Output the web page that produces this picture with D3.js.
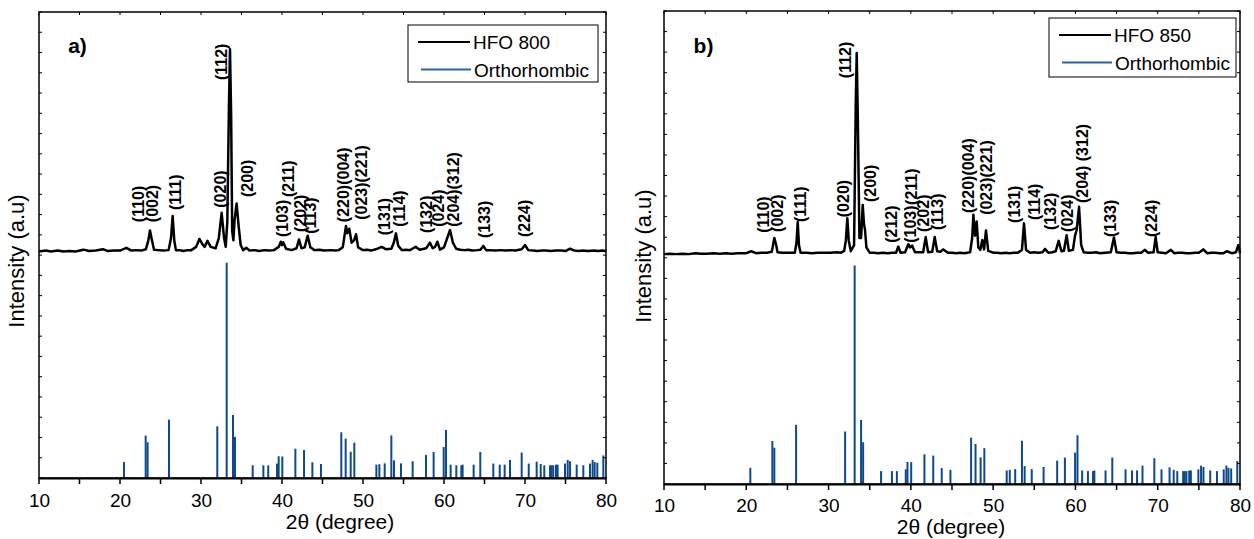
<!DOCTYPE html>
<html><head><meta charset="utf-8">
<script src="https://cdn.jsdelivr.net/npm/d3@7"></script>
<style>
body{margin:0;background:#fff}
svg{display:block}
text{font-family:"Liberation Sans",Arial,sans-serif;fill:#000}
</style>
</head><body>
<svg id="chart" width="1254" height="539"></svg>
<script>
// ---------- DATA ----------
const xTicks = [10, 20, 30, 40, 50, 60, 70, 80];
const xTitle = "2\u03B8 (degree)";
const yTitle = "Intensity (a.u)";

// Orthorhombic reference pattern: [2theta, relative intensity %]
const orthoSticks = [
  [20.49,7.4],[23.17,19.7],[23.41,16.6],[26.05,27.1],[32.01,24.0],[33.17,100],[33.95,29.3],[34.2,19.1],
  [36.38,5.9],[37.7,5.9],[38.3,5.9],[39.38,6.7],[39.59,10.1],[40.04,10.0],[41.65,13.6],[42.72,13.0],
  [43.75,7.3],[44.81,6.5],[47.32,21.2],[47.86,18.3],[48.48,12.2],[48.93,16.4],[51.65,6.2],[52.02,6.4],
  [52.68,6.8],[53.5,19.8],[53.83,8.2],[54.69,6.8],[56.13,7.8],[57.78,10.7],[58.72,12.1],[59.96,14.4],
  [60.25,22.3],[60.82,6.2],[61.52,5.9],[62.14,5.9],[62.3,6.2],[63.66,6.2],[64.48,12.1],[66.09,6.7],
  [66.88,6.2],[67.49,6.2],[68.15,8.4],[69.59,11.8],[70.46,6.7],[71.44,7.6],[71.94,6.5],[72.38,5.9],
  [73.09,5.9],[73.29,5.9],[73.49,5.9],[73.83,6.2],[74.03,6.2],[74.94,6.7],[75.27,8.4],[75.56,7.8],
  [76.38,6.2],[77.2,5.9],[78.02,6.7],[78.35,8.4],[78.6,7.4],[78.93,7.1],[79.67,10.5]
];

// HFO 800 measured pattern: [2theta, intensity (a.u.)]
const hfo800 = [
  [10,48.6],[10.8,48.8],[11.5,48.6],[12.3,48.8],[13,48.6],[13.8,48.7],[14.5,48.6],[15.5,49.0],[16.2,48.7],[17,48.8],
  [17.9,49.1],[18.5,48.7],[19.2,48.8],[20,48.8],[20.8,49.4],[21.4,48.8],[22,48.9],[22.6,48.8],[23.2,49.1],[23.5,51.0],
  [23.7,53.1],[23.9,51.4],[24.2,49.0],[24.7,48.9],[25.3,48.8],[26.0,48.9],[26.3,51.5],[26.5,56.2],[26.7,51.0],[26.9,48.9],
  [27.4,48.9],[27.8,48.7],[28.3,48.9],[28.8,48.9],[29.4,49.6],[29.8,51.3],[30.2,50.1],[30.45,49.6],[30.8,50.9],[31.2,49.6],
  [31.8,49.3],[32.2,51.5],[32.55,56.9],[32.85,51.5],[33.05,49.6],[33.25,55],[33.45,80],[33.58,92.0],[33.72,78],[33.85,53],
  [34.0,51.0],[34.15,55.5],[34.4,58.9],[34.65,54],[34.9,50.0],[35.2,48.9],[35.6,49.4],[36.0,48.8],[36.6,48.9],[37.2,48.7],
  [37.8,48.9],[38.4,48.8],[39.0,48.9],[39.6,49.6],[39.85,50.7],[40.0,50.0],[40.15,50.6],[40.5,49.2],[41.2,48.9],[41.8,49.3],
  [42.1,51.2],[42.4,49.3],[42.8,49.5],[43.17,52.0],[43.5,49.5],[44.0,48.9],[44.6,49.0],[45.2,48.8],[46.0,48.9],[46.6,48.8],
  [47.0,48.9],[47.5,49.5],[47.9,54.1],[48.05,52.5],[48.3,53.5],[48.6,50.5],[48.9,51.0],[49.14,52.3],[49.4,49.5],[50.0,48.9],
  [50.5,49.0],[51.0,48.8],[51.8,49.2],[52.3,49.6],[52.8,49.1],[53.5,49.2],[53.8,50.5],[54.07,52.5],[54.35,49.8],[54.8,48.9],
  [55.3,49.0],[55.8,48.9],[56.2,49.3],[56.5,49.6],[57.0,49.0],[57.8,49.3],[58.27,50.5],[58.6,49.3],[58.9,49.6],[59.18,50.7],
  [59.5,49.0],[60.0,49.5],[60.4,51.5],[60.74,53.2],[61.1,50.5],[61.5,49.2],[62.0,49.0],[62.5,48.9],[63.0,49.0],[63.5,48.8],
  [64.1,48.9],[64.5,49.0],[64.85,49.8],[65.2,48.9],[65.7,48.9],[66.3,48.8],[67.0,48.9],[67.6,48.8],[68.2,48.9],[68.8,48.8],
  [69.6,49.1],[70.0,50.0],[70.4,48.9],[71.0,48.8],[71.5,48.7],[72.1,48.8],[72.6,48.8],[73.2,48.7],[73.8,48.8],[74.5,48.8],
  [75.0,48.7],[75.56,49.2],[76.1,48.8],[76.6,48.7],[77.2,48.8],[77.8,48.7],[78.5,48.8],[79.0,48.7],[79.5,48.8],[80,48.7]
];

// HFO 850 measured pattern: [2theta, intensity (a.u.)]
const hfo850 = [
  [10,48.6],[10.7,48.7],[11.5,48.6],[12.3,48.7],[13,48.6],[13.8,48.8],[14.5,48.7],[15.2,48.7],[16,48.8],[16.8,48.7],
  [17.5,48.8],[18.2,48.7],[19,48.8],[19.6,48.8],[20.0,48.8],[20.6,49.2],[21.2,48.8],[21.8,48.9],[22.5,48.9],[23.1,49.1],
  [23.25,50.5],[23.41,52.0],[23.6,50.8],[23.8,49.0],[24.4,48.9],[25.0,48.9],[25.9,48.9],[26.1,51.0],[26.25,55.4],[26.4,50.5],
  [26.6,48.9],[27.3,48.9],[28.0,48.8],[28.7,48.9],[29.5,48.9],[30.2,48.9],[31.0,49.0],[31.5,48.9],[31.9,49.3],[32.1,51.5],
  [32.28,56.2],[32.45,51.5],[32.7,49.2],[33.1,50.5],[33.3,80],[33.42,91.1],[33.55,78],[33.75,52],[33.95,52],[34.15,59.0],
  [34.3,55.0],[34.43,53.7],[34.6,50.0],[35.0,48.9],[35.5,48.9],[36.0,48.8],[36.6,48.9],[37.2,48.8],[37.7,48.9],[38.2,48.9],
  [38.47,50.2],[38.75,48.9],[39.3,49.0],[39.69,50.7],[39.9,50.0],[40.15,50.4],[40.5,49.0],[41.0,49.0],[41.5,49.0],[41.8,52.2],
  [42.1,49.0],[42.6,49.1],[42.9,52.2],[43.2,49.2],[43.6,49.1],[43.94,49.6],[44.5,48.9],[45.0,48.9],[45.5,48.8],[46.0,48.9],
  [46.5,48.8],[47.2,49.0],[47.45,52],[47.6,56.9],[47.8,52.5],[48.0,55.5],[48.2,50.0],[48.45,49.5],[48.68,51.6],[48.9,49.6],
  [49.13,53.6],[49.4,49.3],[50.0,48.9],[50.5,48.9],[51.0,48.8],[51.5,48.9],[52.0,48.8],[52.5,48.9],[53.0,48.9],[53.5,49.5],
  [53.75,55.1],[54.0,49.5],[54.5,48.9],[55.0,49.0],[55.5,48.9],[56.0,49.0],[56.3,49.7],[56.7,48.9],[57.2,49.0],[57.6,49.2],
  [57.96,51.4],[58.3,49.2],[58.6,49.3],[58.93,52.6],[59.2,49.3],[59.7,49.5],[59.95,52.5],[60.15,53.7],[60.44,58.6],[60.7,50.5],
  [61.0,49.0],[61.5,48.9],[62.0,48.9],[62.5,49.0],[63.0,48.8],[63.6,48.9],[64.3,49.0],[64.68,52.1],[65.0,49.0],[65.5,48.9],
  [66.0,48.9],[66.5,48.8],[67.0,48.8],[67.5,48.9],[68.0,48.9],[68.45,49.5],[68.8,48.9],[69.5,49.0],[69.75,52.2],[70.0,49.0],
  [70.5,48.9],[71.0,48.8],[71.6,49.5],[72.0,48.8],[72.5,48.9],[73.0,48.9],[73.5,48.8],[74.0,48.8],[74.5,48.9],[75.0,48.9],
  [75.54,49.6],[76.0,48.8],[76.5,48.9],[77.0,48.9],[77.5,48.8],[78.0,48.8],[78.4,49.2],[79.0,48.8],[79.5,49.0],[79.8,50.5],[80,48.8]
];

// Miller-index annotations: [text, 2theta, intensity where text starts]
const peaks800 = [
  ["(110)",22.26,54.9],["(002)",24.0,54.9],["(111)",26.87,57.5],["(020)",32.35,58.0],["(112)",32.55,85.4],
  ["(200)",35.72,60.3],["(103)",40.06,51.7],["(211)",40.74,60.3],["(202)",42.28,52.8],["(113)",43.54,52.4],
  ["(220)(004)",47.57,54.9],["(023)(221)",49.84,55.4],["(131)",52.6,52.1],["(114)",54.47,53.9],["(132)",57.86,52.6],
  ["(024)",59.3,53.9],["(204)(312)",61.15,53.9],["(133)",64.94,51.5],["(224)",69.88,51.7]
];
const peaks850 = [
  ["(110)",22.07,53.1],["(002)",23.77,53.3],["(111)",26.6,55.4],["(020)",31.8,56.4],["(112)",32.0,85.8],
  ["(200)",35.03,59.6],["(212)",37.67,51.0],["(103)",39.9,51.0],["(211)",40.1,59.0],["(202)",41.51,53.3],
  ["(113)",43.2,53.7],["(220)(004)",46.98,57.3],["(023)(221)",49.21,56.9],["(131)",52.53,55.2],["(114)",54.96,55.8],
  ["(132)",56.99,53.7],["(024)",59.0,53.3],["(204) (312)",60.83,59.4],["(133)",64.23,52.2],["(224)",69.26,52.2]
];

const seriesNames800 = ["HFO 800", "Orthorhombic"];
const seriesNames850 = ["HFO 850", "Orthorhombic"];
const panelLetters = ["a)", "b)"];

// ---------- DRAW ----------
const svg = d3.select("#chart");
const stickColor = "#0d4a8c";

const panels = [
  {box:{l:39,r:606,t:12,b:478}, curve:hfo800, peaks:peaks800, names:seriesNames800, letter:panelLetters[0],
   legend:{x:408,y:25,w:190,h:57}, tickBase:507, xt:{x:340,y:529}, yt:{x:16,y:261}},
  {box:{l:664,r:1240,t:11,b:484}, curve:hfo850, peaks:peaks850, names:seriesNames850, letter:panelLetters[1],
   legend:{x:1049,y:18,w:187,h:59}, tickBase:512, xt:{x:951,y:534}, yt:{x:643,y:256}}
];

panels.forEach(p => {
  const b = p.box;
  const x = d3.scaleLinear().domain([10, 80]).range([b.l, b.r]);
  const y = d3.scaleLinear().domain([0, 100]).range([b.b, b.t]);
  const stickY = d3.scaleLinear().domain([0, 100]).range([b.b, y(46.2)]);
  const g = svg.append("g");

  // sticks
  g.append("g").selectAll("line").data(orthoSticks).join("line")
    .attr("x1", d => x(d[0])).attr("x2", d => x(d[0]))
    .attr("y1", b.b).attr("y2", d => stickY(d[1]))
    .attr("stroke", stickColor).attr("stroke-width", 2);

  // curve
  g.append("path").datum(p.curve)
    .attr("d", d3.line().x(d => x(d[0])).y(d => y(d[1])))
    .attr("fill", "none").attr("stroke", "#000").attr("stroke-width", 2.5)
    .attr("stroke-linejoin", "round");

  // frame
  g.append("rect").attr("x", b.l).attr("y", b.t).attr("width", b.r - b.l).attr("height", b.b - b.t)
    .attr("fill", "none").attr("stroke", "#000").attr("stroke-width", 1.5);

  // bottom axis
  const xAxis = d3.axisBottom(x).tickValues(xTicks).tickSize(0).tickPadding(0).tickFormat(d3.format("d"));
  const ax = g.append("g").attr("transform", `translate(0,${b.b})`).call(xAxis);
  ax.select(".domain").attr("stroke-width", 2);
  ax.selectAll("text").attr("font-size", 19).attr("font-family", "Liberation Sans, Arial, sans-serif")
    .attr("dy", null).attr("y", p.tickBase - b.b);
  const fives = d3.range(10, 81, 5);
  g.append("g").selectAll("line").data(fives).join("line")
    .attr("x1", d => x(d)).attr("x2", d => x(d))
    .attr("y1", b.b).attr("y2", b.b + 6)
    .attr("stroke", "#000").attr("stroke-width", 1.5);
  // top ticks
  g.append("g").selectAll("line").data(fives).join("line")
    .attr("x1", d => x(d)).attr("x2", d => x(d))
    .attr("y1", b.t).attr("y2", b.t + 3)
    .attr("stroke", "#000").attr("stroke-width", 1);
  // left / right ticks
  const yt = d3.range(0, 100.01, 100 / 23);
  g.append("g").selectAll("line").data(yt).join("line")
    .attr("x1", b.l).attr("x2", b.l + 3).attr("y1", d => y(d)).attr("y2", d => y(d))
    .attr("stroke", "#000").attr("stroke-width", 1);
  g.append("g").selectAll("line").data(yt).join("line")
    .attr("x1", b.r).attr("x2", b.r - 3).attr("y1", d => y(d)).attr("y2", d => y(d))
    .attr("stroke", "#000").attr("stroke-width", 1);

  // peak labels
  g.append("g").selectAll("text").data(p.peaks).join("text")
    .attr("transform", d => `translate(${x(d[1])},${y(d[2])}) rotate(-90)`)
    .attr("dy", "0.35em").attr("font-size", 16).attr("font-weight", "bold")
    .text(d => d[0]);

  // panel letter
  g.append("text").attr("x", x(13.6)).attr("y", y(91.2)).attr("font-size", 21).attr("font-weight", "bold").text(p.letter);

  // axis titles
  g.append("text").attr("x", p.xt.x).attr("y", p.xt.y).attr("text-anchor", "middle").attr("font-size", 21).text(xTitle);
  g.append("text").attr("transform", `translate(${p.yt.x},${p.yt.y}) rotate(-90)`).attr("dy", "0.35em")
    .attr("text-anchor", "middle").attr("font-size", 22).text(yTitle);

  // legend
  const L = p.legend;
  const lg = g.append("g").attr("transform", `translate(${L.x},${L.y})`);
  lg.append("rect").attr("width", L.w).attr("height", L.h).attr("fill", "#fff").attr("stroke", "#000").attr("stroke-width", 1);
  lg.append("line").attr("x1", 10).attr("x2", 62).attr("y1", 17).attr("y2", 17).attr("stroke", "#000").attr("stroke-width", 2);
  lg.append("line").attr("x1", 13).attr("x2", 63).attr("y1", 44.5).attr("y2", 44.5).attr("stroke", "#2a64a8").attr("stroke-width", 2);
  lg.append("text").attr("x", 65).attr("y", 23.5).attr("font-size", 19).text(p.names[0]);
  lg.append("text").attr("x", 66).attr("y", 51.5).attr("font-size", 19).text(p.names[1]);
});
</script>
</body></html>
